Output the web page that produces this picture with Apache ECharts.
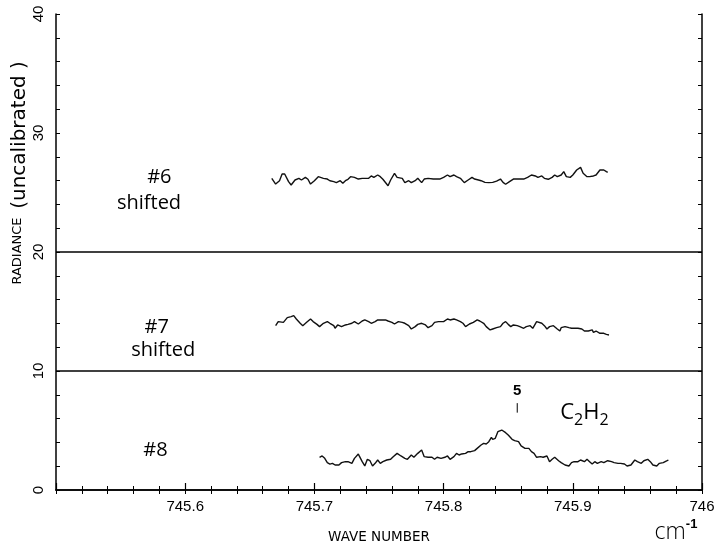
<!DOCTYPE html>
<html><head><meta charset="utf-8">
<script src="https://cdn.jsdelivr.net/npm/echarts@6/dist/echarts.min.js"></script>
<style>html,body{margin:0;padding:0;background:#fff}#c{width:715px;height:545px}</style>
</head><body><div id="c"></div>
<script>
const xTicks = ['745.6','745.7','745.8','745.9','746'];
const yTicks = ['0','10','20','30','40'];

const x6 = [745.667,745.670,745.673,745.675,745.677,745.680,745.682,745.685,745.688,745.690,745.693,745.695,745.697,745.700,745.703,745.704,745.707,745.710,745.712,745.715,745.717,745.720,745.722,745.724,745.726,745.728,745.731,745.734,745.737,745.739,745.742,745.744,745.746,745.749,745.751,745.753,745.757,745.759,745.762,745.764,745.768,745.770,745.773,745.775,745.778,745.780,745.783,745.785,745.788,745.792,745.797,
745.800,745.803,745.805,745.808,745.810,745.813,745.816,745.819,745.822,745.824,745.827,745.829,745.832,745.835,745.838,745.841,745.844,745.846,745.848,745.851,745.854,745.858,745.862,745.865,745.868,745.871,745.873,745.876,745.878,745.881,745.884,745.886,745.888,745.891,745.893,745.895,745.898,745.900,745.903,745.906,745.908,745.911,745.913,745.916,745.918,745.921,745.924,745.926,745.927];
const y6 = [26.19,25.71,25.99,26.55,26.55,25.91,25.63,26.05,26.19,26.05,26.27,26.11,25.71,25.99,26.33,26.47,26.19,26.13,25.99,25.91,25.83,25.99,25.77,25.99,26.11,26.33,26.27,26.13,26.19,26.19,26.19,26.39,26.27,26.47,26.33,26.11,25.57,26.05,26.61,26.27,26.19,25.83,25.99,25.83,25.99,26.19,25.83,26.13,26.19,26.13,26.13,
26.27,26.47,26.33,26.47,26.33,26.19,25.83,26.05,26.27,26.13,26.05,25.99,25.85,25.83,25.85,25.96,26.13,25.85,25.69,25.91,26.13,26.13,26.13,26.27,26.47,26.39,26.27,26.39,26.19,26.11,26.27,26.47,26.33,26.47,26.75,26.33,26.27,26.47,26.89,27.11,26.61,26.33,26.33,26.39,26.47,26.89,26.89,26.75,26.69];

const x7 = [745.670,745.672,745.673,745.676,745.679,745.680,745.682,745.684,745.686,745.689,745.691,745.694,745.697,745.699,745.702,745.704,745.707,745.710,745.712,745.715,745.716,745.718,745.721,745.724,745.726,745.729,745.731,745.734,745.737,745.739,745.742,745.744,745.747,745.749,745.752,745.755,745.757,745.760,745.762,745.765,745.768,745.770,745.773,745.775,745.778,745.780,745.783,745.786,745.788,745.791,745.793,745.796,
745.800,745.803,745.805,745.808,745.810,745.813,745.815,745.817,745.820,745.823,745.826,745.828,745.831,745.833,745.836,745.838,745.841,745.844,745.846,745.848,745.850,745.852,745.854,745.857,745.859,745.862,745.864,745.867,745.869,745.872,745.873,745.876,745.878,745.880,745.882,745.885,745.888,745.890,745.891,745.894,745.897,745.899,745.902,745.904,745.907,745.909,745.912,745.915,745.916,745.918,745.921,745.922,745.924,745.926,745.928];
const y7 = [13.81,14.15,14.01,14.09,14.49,14.65,14.57,14.65,14.37,14.01,13.81,14.09,14.37,14.15,13.92,13.73,14.01,14.15,14.01,13.81,13.59,13.87,13.73,13.87,13.92,14.01,14.15,13.95,14.20,14.29,14.15,14.01,14.15,14.29,14.29,14.29,14.20,14.09,13.95,14.15,14.09,14.01,13.81,13.53,13.73,13.92,14.01,13.87,13.64,13.81,14.09,14.15,
14.15,14.37,14.29,14.37,14.29,14.15,14.01,13.73,13.95,14.09,14.29,14.20,14.01,13.73,13.45,13.53,13.64,13.73,14.01,14.15,13.92,13.73,13.87,13.81,13.73,13.59,13.73,13.81,13.59,14.15,14.29,14.01,13.81,13.53,13.73,13.81,13.53,13.36,13.64,13.73,13.64,13.59,13.59,13.59,13.53,13.36,13.36,13.45,13.25,13.36,13.17,13.25,13.17,13.08,13.03];

const x8 = [745.704,745.706,745.708,745.710,745.712,745.714,745.716,745.719,745.721,745.724,745.726,745.729,745.731,745.734,745.735,745.737,745.739,745.741,745.743,745.745,745.747,745.749,745.751,745.753,745.756,745.759,745.761,745.764,745.765,745.767,745.770,745.772,745.775,745.777,745.780,745.783,745.785,745.788,745.791,745.793,745.795,745.798,745.801,745.803,745.805,745.808,745.810,745.812,745.814,745.817,745.819,745.821,745.824,745.826,745.827,745.829,745.831,745.833,745.835,745.837,745.838,745.840,
745.842,745.845,745.848,745.850,745.853,745.855,745.858,745.860,745.863,745.866,745.868,745.870,745.872,745.875,745.877,745.880,745.882,745.884,745.886,745.889,745.891,745.894,745.897,745.899,745.901,745.904,745.906,745.909,745.911,745.913,745.915,745.917,745.919,745.922,745.924,745.927,745.930,745.932,745.935,745.937,745.940,745.942,745.945,745.948,745.950,745.953,745.955,745.958,745.960,745.962,745.965,745.967,745.970,745.973,745.974];
const y8 = [2.75,2.86,2.66,2.30,2.18,2.24,2.10,2.10,2.30,2.38,2.38,2.24,2.66,3.03,2.80,2.38,2.02,2.58,2.46,2.02,2.24,2.52,2.24,2.38,2.52,2.58,2.80,3.08,3.22,2.86,2.66,2.58,2.94,2.75,3.08,3.36,2.80,2.75,2.75,2.58,2.75,2.66,2.75,2.86,2.58,2.80,3.08,2.94,3.03,3.08,3.22,3.22,3.31,3.50,3.36,3.78,3.92,3.87,4.06,4.43,4.26,4.34,
4.90,5.04,4.82,4.62,4.26,4.15,4.06,3.70,3.50,3.50,3.22,3.08,2.75,2.80,2.75,2.86,2.38,2.58,2.75,2.46,2.30,2.10,2.02,2.30,2.38,2.38,2.52,2.38,2.58,2.38,2.18,2.38,2.24,2.38,2.30,2.46,2.38,2.30,2.24,2.24,2.18,2.02,2.10,2.52,2.38,2.24,2.46,2.58,2.38,2.10,2.02,2.24,2.30,2.46,2.52];

const dividers = [10, 20];
const noteText = ['#6', 'shifted', '#7', 'shifted', '#8'];
const noteX = [745.580, 745.572, 745.578, 745.583, 745.577];
const noteY = [26.3, 24.1, 13.7, 11.76, 3.36];
const lineLabel = '5';
const lineLabelPos = [745.857, 8.3];
const lineMark = [[745.857, 7.3], [745.857, 6.5]];
const moleculePos = [745.909, 6.3];

function zip(xs, ys) { const n = Math.min(xs.length, ys.length); const a = []; for (let i = 0; i < n; i++) a.push([xs[i], ys[i]]); return a; }

const chart = echarts.init(document.getElementById('c'), null, {renderer: 'canvas'});
const black = '#000';
const axisCommon = {
  axisLine: {show: true, lineStyle: {color: black, width: 1.5}},
  splitLine: {show: false},
  minorTick: {show: true, splitNumber: 5, length: 4, lineStyle: {color: black, width: 1}},
  axisTick: {show: true, inside: true, length: 7, lineStyle: {color: black, width: 1.2}}
};
const traceStyle = {type: 'line', showSymbol: false, symbol: 'none', lineStyle: {color: '#111', width: 1.4}, animation: false, silent: true};
const noteBase = {type: 'scatter', symbolSize: 0, silent: true, animation: false, itemStyle: {opacity: 1, color: black}};

chart.setOption({
  animation: false,
  grid: {left: 56, top: 14, right: 13, bottom: 55, containLabel: false, outerBoundsMode: 'none'},
  xAxis: [
    Object.assign({type: 'value', min: 745.5, max: 746.0, interval: 0.1, position: 'bottom',
      name: 'WAVE NUMBER', nameLocation: 'middle', nameGap: 40,
      nameTextStyle: {fontFamily: 'DejaVu Sans', fontSize: 13.5, color: black},
      axisLabel: {margin: 9, fontFamily: 'Liberation Sans', fontSize: 15, color: black, showMinLabel: false,
        formatter: function (v) { const i = Math.round((v - 745.6) * 10); return (i >= 0 && i < xTicks.length) ? xTicks[i] : ''; }}
    }, axisCommon),
    Object.assign({type: 'value', min: 745.5, max: 746.0, interval: 0.1, position: 'top', axisLabel: {show: false}}, axisCommon,
      {axisTick: {show: true, inside: true, length: 4, lineStyle: {color: black, width: 1}}})
  ],
  yAxis: [
    Object.assign({type: 'value', min: 0, max: 40, interval: 10, position: 'left',
      axisLabel: {rotate: 90, margin: 10, fontFamily: 'Liberation Sans', fontSize: 15, color: black,
        formatter: function (v) { const i = Math.round(v / 10); return yTicks[i] !== undefined ? yTicks[i] : ''; }}
    }, axisCommon, {axisTick: {show: true, inside: true, length: 4, lineStyle: {color: black, width: 1}}}),
    Object.assign({type: 'value', min: 0, max: 40, interval: 10, position: 'right', axisLabel: {show: false}}, axisCommon,
      {axisTick: {show: true, inside: true, length: 4, lineStyle: {color: black, width: 1}}})
  ],
  series: [
    Object.assign({name: '#6', data: zip(x6, y6),
      markLine: {silent: true, symbol: ['none', 'none'], label: {show: false}, lineStyle: {color: black, width: 1.5, type: 'solid'},
        data: dividers.map(function (d) { return {yAxis: d}; })}}, traceStyle),
    Object.assign({name: '#7', data: zip(x7, y7)}, traceStyle),
    Object.assign({name: '#8', data: zip(x8, y8)}, traceStyle),
    Object.assign({name: 'mark', data: lineMark}, traceStyle, {lineStyle: {color: black, width: 1}}),
    Object.assign({}, noteBase, {
      data: noteText.map(function (t, i) { return {value: [noteX[i], noteY[i]], name: t}; }),
      label: {show: true, position: 'inside', formatter: '{b}', fontFamily: 'Open Sans', fontSize: 20, color: black, opacity: 1}}),
    Object.assign({}, noteBase, {
      data: [{value: lineLabelPos, name: lineLabel}],
      label: {show: true, position: 'inside', formatter: '{b}', fontFamily: 'Liberation Sans', fontWeight: 'bold', fontSize: 15, color: black, opacity: 1}}),
    Object.assign({}, noteBase, {
      data: [{value: moleculePos, name: 'C2H2'}],
      label: {show: true, position: 'inside', formatter: '{a|C}{s|2}{a|H}{s|2}', color: black, opacity: 1,
        rich: {a: {fontFamily: 'Open Sans', fontSize: 22, color: black, lineHeight: 26, verticalAlign: 'top'},
               s: {fontFamily: 'Open Sans', fontSize: 16, color: black, lineHeight: 16, verticalAlign: 'bottom', padding: [14, 0, 0, 0]}}}})
  ],
  graphic: [
    {type: 'text', x: 18, y: 251, rotation: Math.PI / 2,
      style: {text: 'RADIANCE', align: 'center', verticalAlign: 'middle', fontFamily: 'DejaVu Sans', fontSize: 13, fill: black}},
    {type: 'text', x: 20, y: 135, rotation: Math.PI / 2,
      style: {text: '(uncalibrated )', align: 'center', verticalAlign: 'middle', fontFamily: 'DejaVu Sans', fontSize: 20, fill: black}},
    {type: 'text', x: 676, y: 532,
      style: {text: '{c|cm}{e|-1}', align: 'center', verticalAlign: 'middle',
        rich: {c: {fontFamily: 'Open Sans', fontWeight: 300, fontSize: 23, fill: black}, e: {fontFamily: 'Liberation Sans', fontWeight: 'bold', fontSize: 13, fill: black, padding: [0, 0, 16, 0]}}}}
  ]
});
</script></body></html>
